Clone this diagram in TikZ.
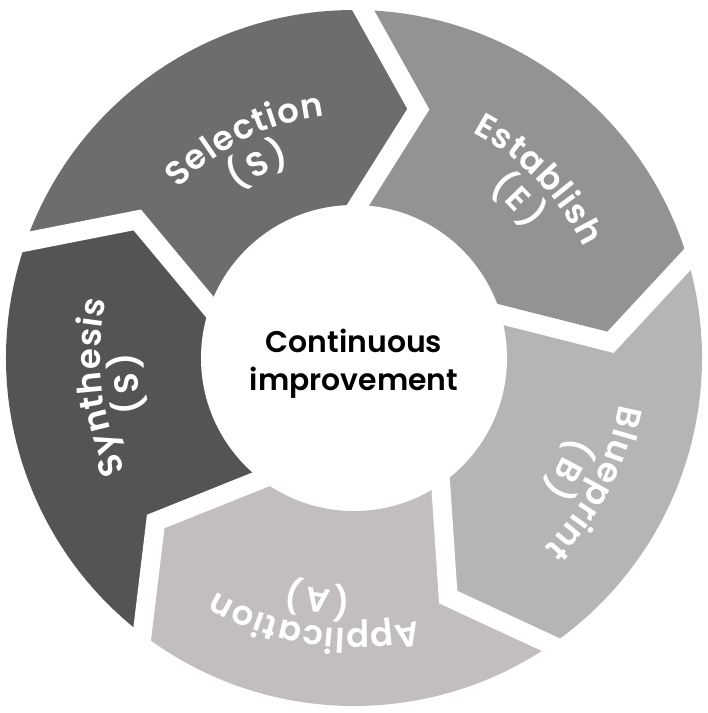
\documentclass[tikz,border=0pt]{standalone}
\usepackage{fontspec}
\setmainfont{Poppins}[BoldFont={* SemiBold}]
\usetikzlibrary{decorations.text,calc}
\definecolor{cSel}{RGB}{110,108,109}
\definecolor{cEst}{RGB}{149,146,146}
\definecolor{cBlu}{RGB}{182,180,181}
\definecolor{cApp}{RGB}{195,190,190}
\definecolor{cSyn}{RGB}{84,84,84}
\newcommand\lblfont{\bfseries\fontsize{34}{38}\selectfont}
\newcommand\segfill[3]{%
  \fill[#1] (#2:348bp) arc[start angle=#2, end angle=#3, radius=348bp]
    -- ({#3-13}:257bp) -- (#3:153bp) -- (0,0) -- (#2:153bp)
    -- ({#2-13}:257bp) -- cycle;}
% #1 angle, #2 outer text, #3 inner text, #4 outer radius, #5 inner radius
\newcommand\seglabel[5]{%
  \path[decorate, decoration={text along path, text color=white, text align=center,
      text={|\lblfont|#2}}]
    ({#1+50}:#4) arc[start angle={#1+50}, end angle={#1-50}, radius=#4];
  \path[decorate, decoration={text along path, text color=white, text align=center,
      text={|\lblfont|#3}}]
    ({#1+50}:#5) arc[start angle={#1+50}, end angle={#1-50}, radius=#5];}
\tikzset{gapline/.style={white, line width=19bp, line join=miter, miter limit=20}}
\begin{document}
\begin{tikzpicture}
\useasboundingbox (-354bp,-355bp) rectangle (354bp,358bp);
% segments
\segfill{cSel}{160.5}{88.5}
\segfill{cEst}{88.5}{16.5}
\segfill{cBlu}{16.5}{-55.5}
\segfill{cApp}{-55.5}{-127.5}
\segfill{cSyn}{-127.5}{-199.5}
% gaps between segments
\foreach \t [count=\k] in {88.5,16.5,-55.5,-127.5,-199.5}{
  \coordinate (tip\k) at ({\t-13}:257bp);
  \coordinate (out\k) at (\t:348bp);
  \coordinate (in\k) at (\t:153bp);
  \draw[gapline] ($(tip\k)!1.2!(out\k)$) -- (tip\k) -- ($(tip\k)!1.3!(in\k)$);
}
% centre disc
\fill[white] (0,0) circle[radius=153bp];
\node[anchor=base, font=\bfseries\fontsize{30}{36}\selectfont, text=black] (c1) at (0,6bp) {Continuous};
\node[anchor=base, font=\bfseries\fontsize{30}{36}\selectfont, text=black] (c2) at (0,-32bp) {improvement};
% labels
\seglabel{116.5}{S{\kern1bp}e{\kern1bp}l{\kern1bp}e{\kern1bp}c{\kern1bp}t{\kern1bp}i{\kern1bp}o{\kern1bp}n}{({\kern3bp}S{\kern3bp})}{244bp}{205bp}
\seglabel{44}{E{\kern1bp}s{\kern1bp}t{\kern1bp}a{\kern1bp}b{\kern1bp}l{\kern1bp}i{\kern1bp}s{\kern1bp}h}{({\kern3bp}E{\kern3bp})}{255bp}{217bp}
\seglabel{-27.5}{B{\kern1bp}l{\kern1bp}u{\kern1bp}e{\kern1bp}p{\kern1bp}r{\kern1bp}i{\kern1bp}n{\kern1bp}t}{({\kern3bp}B{\kern3bp})}{269bp}{231bp}
\seglabel{-98.5}{A{\kern1bp}p{\kern1bp}p{\kern1bp}l{\kern1bp}i{\kern1bp}c{\kern1bp}a{\kern1bp}t{\kern1bp}i{\kern1bp}o{\kern1bp}n}{({\kern3bp}A{\kern3bp})}{271bp}{233bp}
\seglabel{186.5}{S{\kern1bp}y{\kern1bp}n{\kern1bp}t{\kern1bp}h{\kern1bp}e{\kern1bp}s{\kern1bp}i{\kern1bp}s}{({\kern3bp}S{\kern3bp})}{254bp}{217bp}
\end{tikzpicture}
\end{document}
